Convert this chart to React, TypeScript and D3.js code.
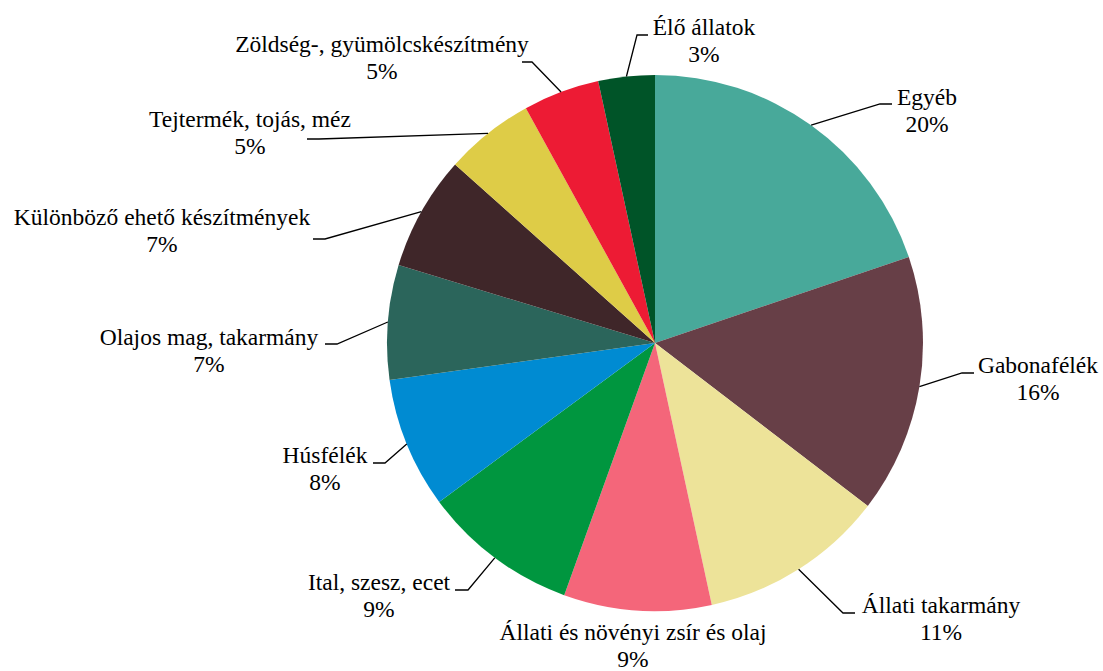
import React from "react";
import * as d3 from "d3";

const categories = [
  "Egyéb",
  "Gabonafélék",
  "Állati takarmány",
  "Állati és növényi zsír és olaj",
  "Ital, szesz, ecet",
  "Húsfélék",
  "Olajos mag, takarmány",
  "Különböző ehető készítmények",
  "Tejtermék, tojás, méz",
  "Zöldség-, gyümölcskészítmény",
  "Élő állatok",
];

const values = [19.8, 15.6, 11.2, 8.9, 9.4, 7.9, 6.9, 6.9, 5.4, 4.6, 3.4];

const colors = [
  "#48A99A",
  "#673F47",
  "#EDE399",
  "#F4667A",
  "#00963F",
  "#008BD2",
  "#2B655B",
  "#3F2629",
  "#DECC47",
  "#ED1B34",
  "#005428",
];

// label layout: text centre x, first baseline y, elbow point (ex, ey), horizontal end x (hx)
const labelLayout = [
  { x: 927, y: 105, ex: 880, ey: 104, hx: 892 },
  { x: 1038, y: 373, ex: 962, ey: 373, hx: 974 },
  { x: 941, y: 613, ex: 843, ey: 613, hx: 855 },
  { x: 633, y: 640, ex: null, ey: null, hx: null },
  { x: 379, y: 590, ex: 468, ey: 590, hx: 455 },
  { x: 325, y: 463, ex: 385, ey: 463, hx: 373 },
  { x: 209, y: 345, ex: 337, ey: 344, hx: 325 },
  { x: 162, y: 225, ex: 325, ey: 239, hx: 313 },
  { x: 250, y: 127, ex: 319, ey: 139, hx: 307 },
  { x: 382, y: 52, ex: 532, ey: 62, hx: 522 },
  { x: 704, y: 35, ex: 637, ey: 35, hx: 648 },
];

const W = 1103;
const H = 671;
const CX = 655;
const CY = 343;
const R = 268;
const FONT = "Liberation Serif, DejaVu Serif, serif";

export default function App() {
  const pie = d3
    .pie<number>()
    .sort(null)
    .value((d) => d);
  const arcs = pie(values);
  const arc = d3.arc<d3.PieArcDatum<number>>().innerRadius(0).outerRadius(R);
  const fontSize = 23.5;

  return (
    <svg
      width={W}
      height={H}
      style={{ position: "absolute", left: 0, top: 0, background: "#fff" }}
    >
      <g transform={`translate(${CX},${CY})`}>
        {arcs.map((a, i) => (
          <path key={i} d={arc(a) || ""} fill={colors[i]} />
        ))}
      </g>
      {arcs.map((a, i) => {
        const L = labelLayout[i];
        const mid = (a.startAngle + a.endAngle) / 2;
        const sx = CX + R * Math.sin(mid);
        const sy = CY - R * Math.cos(mid);
        return (
          <g key={i}>
            {L.ex !== null && (
              <polyline
                points={`${sx},${sy} ${L.ex},${L.ey} ${L.hx},${L.ey}`}
                fill="none"
                stroke="#000"
                strokeWidth={1.3}
              />
            )}
            <text
              x={L.x}
              y={L.y}
              textAnchor="middle"
              fontFamily={FONT}
              fontSize={fontSize}
              fill="#000"
            >
              {categories[i]}
            </text>
            <text
              x={L.x}
              y={L.y + 26.5}
              textAnchor="middle"
              fontFamily={FONT}
              fontSize={fontSize}
              fill="#000"
            >
              {Math.round(values[i])}%
            </text>
          </g>
        );
      })}
    </svg>
  );
}
